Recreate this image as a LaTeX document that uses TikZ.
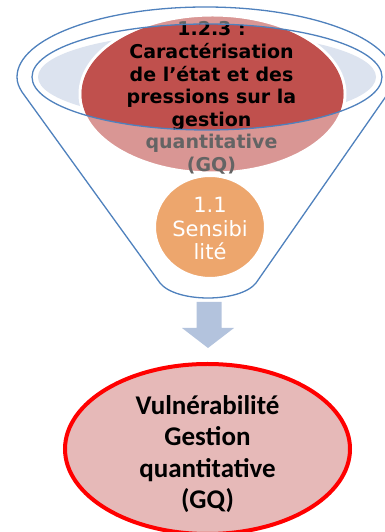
\documentclass[tikz,border=0pt]{standalone}
\usepackage{fontspec}
\newfontfamily\dvs{DejaVu Sans}
\newfontfamily\carl{Carlito}
\usetikzlibrary{shapes.geometric}
\definecolor{funnelblue}{HTML}{4F81BD}
\definecolor{darkred}{HTML}{C0504D}
\definecolor{lightred}{HTML}{D99694}
\definecolor{ringfill}{HTML}{DCE3EF}
\definecolor{orangefill}{HTML}{EDA66D}
\definecolor{arrowblue}{HTML}{B3C3DD}
\definecolor{vulnfill}{HTML}{E6B9B8}
\definecolor{graytext}{HTML}{646464}
\tikzset{
  outline/.style={draw=funnelblue,line width=1.3pt},
  redtext/.style={align=center,inner sep=0pt,font=\dvs\bfseries\fontsize{19}{22.6}\selectfont},
  senstext/.style={align=center,inner sep=0pt,text=white,font=\dvs\fontsize{21}{23.5}\selectfont},
  vulntext/.style={align=center,inner sep=0pt,font=\carl\bfseries\fontsize{27}{31.5}\selectfont},
}
\begin{document}
\begin{tikzpicture}[x=1pt,y=1pt]
\useasboundingbox (0,0) rectangle (384,532);
% funnel
\draw[outline,fill=white] (394,455) .. controls (394,449) and (392,445) .. (389,440)
  -- (256,249) .. controls (240,229) and (176,229) .. (160,249)
  -- (22,440) .. controls (19,445) and (17,449) .. (17,455)
  arc[start angle=180,end angle=0,x radius=188.5,y radius=70] -- cycle;
\fill[ringfill] (207,455) ellipse[x radius=169,y radius=44];
% red ellipse
\path[fill=lightred,draw=white,line width=3pt] (212.5,438) ellipse[x radius=132.5,y radius=79];
\node[redtext,text=graytext] (pressgray) at (211.5,434) {1.2.3 :\\Caractérisation\\de l’état et des\\pressions sur la\\gestion\\quantitative\\(GQ)};
\begin{scope}
  \clip (207,455) ellipse[x radius=175,y radius=53];
  \fill[darkred] (212.5,438) ellipse[x radius=131,y radius=77.5];
  \node[redtext,text=black] (press) at (211.5,434) {1.2.3 :\\Caractérisation\\de l’état et des\\pressions sur la\\gestion\\quantitative\\(GQ)};
\end{scope}
\draw[outline] (207,455) ellipse[x radius=175,y radius=53];
% orange
\path[fill=orangefill,draw=white,line width=2pt] (210,305) ellipse[x radius=55,y radius=51];
\node[senstext] (sens) at (210,303.5) {1.1\\Sensibi\\lité};
% arrow
\coordinate (atop) at (208,230);
\coordinate (atip) at (208,184);
\fill[arrowblue] (196.5,230) -- (221.5,230) -- (221.5,204) -- (234,204) -- (atip) -- (182,204) -- (196.5,204) -- cycle;
% bottom ellipse
\path[fill=vulnfill,draw=red,line width=4pt] (207.5,83) ellipse[x radius=142.5,y radius=85];
\node[vulntext] (vuln) at (207.5,78) {Vulnérabilité\\Gestion\\quantitative\\(GQ)};
\end{tikzpicture}
\end{document}
